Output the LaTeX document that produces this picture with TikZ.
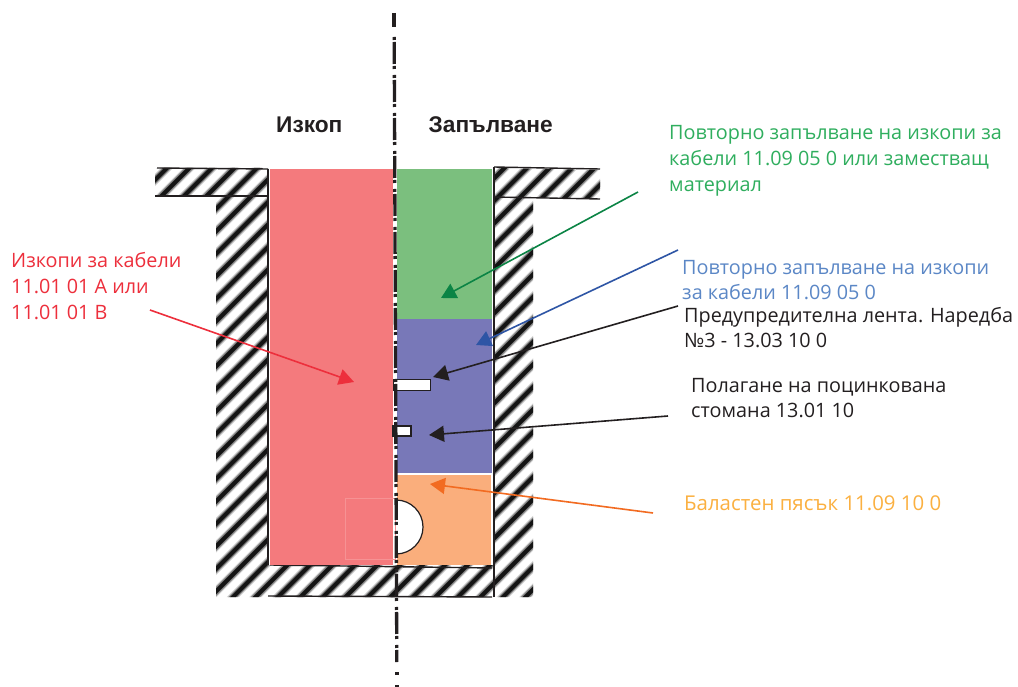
\documentclass[tikz,border=0pt]{standalone}
\usepackage{fontspec}
\setmainfont{Open Sans}
\newfontfamily\headfont{Liberation Sans}
\usetikzlibrary{arrows.meta}
\definecolor{cred}{HTML}{F47A7D}
\definecolor{cgreen}{HTML}{7BBF7E}
\definecolor{cblue}{HTML}{7878B8}
\definecolor{corange}{HTML}{FAAE7C}
\definecolor{tred}{HTML}{ED2F3C}
\definecolor{tgreen}{HTML}{2FAE5E}
\definecolor{tblue}{HTML}{5B87C6}
\definecolor{tyellow}{HTML}{FBB040}
\definecolor{agreen}{HTML}{0B8445}
\definecolor{ablue}{HTML}{2E55A5}
\definecolor{aorange}{HTML}{F26B21}
\definecolor{ablack}{HTML}{231F20}
\tikzset{
  x=1pt,y=-1pt,
  lab/.style={anchor=north west,inner sep=0pt,align=left,font=\fontsize{19.8}{26}\selectfont},
  head/.style={inner sep=0pt,font=\headfont\bfseries\fontsize{22.7}{26}\selectfont,text=ablack},
  leader/.style={line width=1.6pt,-{Triangle[length=15pt,width=16pt]}},
  edge/.style={draw=ablack,line width=1.4pt},
  slot/.style={draw=ablack,line width=1.5pt,fill=white},
  axisline/.style={ablack,line width=3.3pt},
}
\begin{document}
\begin{tikzpicture}
\useasboundingbox (0,0) rectangle (1018,687);
\fill[white] (0,0) rectangle (1018,687);
% hatching
\begin{scope}
\clip (155,168) -- (268,168) -- (268,565) -- (494,565) -- (494,168) -- (600,170) -- (600,198) -- (533,198) -- (533,597) -- (216,597) -- (216,197) -- (155,197) -- cycle;
\foreach \i in {0,...,50}{
  \draw[line width=8.5pt,black!18] ({150+22.5*\i},140) -- ({150+22.5*\i-480},620);
  \draw[line width=6.5pt,black!50] ({150+22.5*\i},140) -- ({150+22.5*\i-480},620);
  \draw[line width=4pt,black!92] ({150+22.5*\i},140) -- ({150+22.5*\i-480},620);
}
\end{scope}
% hatch outlines
\draw[edge] (157,168) -- (268,169);
\draw[edge] (155,196) -- (268,196);
\draw[edge] (494,167) -- (600,169);
\draw[edge] (494,197) -- (600,199);
\draw[edge] (268,169) -- (268,565);
\draw[edge] (494,167) -- (494,597);
\draw[edge] (270,565) -- (492,568);
\draw[edge] (268,596) -- (492,597);
% fills
\fill[cred] (270,169) rectangle (393,565);
\fill[cgreen] (397,169) rectangle (492,319);
\fill[cblue] (397,319) rectangle (492,473);
\fill[corange] (397,475) rectangle (491,565);
\draw[white!18!cred,line width=.8pt] (345,498) rectangle (395,559);
% cable
\filldraw[fill=white,draw=ablack,line width=1.2pt] (396,554) arc (90:-90:27);
% slots
\node[slot,minimum width=37pt,minimum height=11pt,inner sep=0pt] (tape) at (412,385) {};
\node[slot,minimum width=18pt,minimum height=10pt,inner sep=0pt] (steel) at (402,431) {};
% center line
\draw[axisline] (394,13) -- (394,27);
\draw[axisline,dash pattern=on 3pt off 2pt on 22pt off 2pt on 3pt off 6pt] (394.2,37) -- (396.8,662);
\draw[axisline] (397,672) -- (397,675);
\draw[axisline] (397,685) -- (397,687);
% headings
\node[head,anchor=west] (h1) at (276,125) {Изкоп};
\node[head,anchor=west] (h2) at (428.5,125) {Запълване};
% labels
\node[lab,text=tred] (l1) at (11,252) {Изкопи за кабели\\11.01 01 A или\\11.01 01 B};
\node[lab,text=tgreen] (l2) at (669,125) {Повторно запълване на изкопи за\\кабели 11.09 05 0 или заместващ\\материал};
\node[lab,text=tblue,font=\fontsize{19.8}{25.5}\selectfont] (l3) at (682,260) {Повторно запълване на изкопи\\за кабели 11.09 05 0};
\node[lab,text=ablack,font=\fontsize{19.8}{25.5}\selectfont] (l4) at (684,307) {Предупредителна лента. Наредба\\№3 - 13.03 10 0};
\node[lab,text=ablack,font=\fontsize{19.8}{25.5}\selectfont] (l5) at (691,378) {Полагане на поцинкована\\стомана 13.01 10};
\node[lab,text=tyellow,font=\fontsize{20.4}{26}\selectfont] (l6) at (684,496) {Баластен пясък 11.09 10 0};
% leaders
\coordinate (s1) at (150,310); \coordinate (e1) at (354,382);
\coordinate (s2) at (638,192); \coordinate (e2) at (441,298);
\coordinate (s3) at (678,250); \coordinate (e3) at (476,345);
\coordinate (s4) at (678,306); \coordinate (e4) at (433,377);
\coordinate (s5) at (668,416); \coordinate (e5) at (429,435);
\coordinate (s6) at (653,513); \coordinate (e6) at (430,484);
\draw[leader,color=tred] (s1) -- (e1);
\draw[leader,color=agreen] (s2) -- (e2);
\draw[leader,color=ablue] (s3) -- (e3);
\draw[leader,color=ablack] (s4) -- (e4);
\draw[leader,color=ablack] (s5) -- (e5);
\draw[leader,color=aorange] (s6) -- (e6);
\end{tikzpicture}
\end{document}
